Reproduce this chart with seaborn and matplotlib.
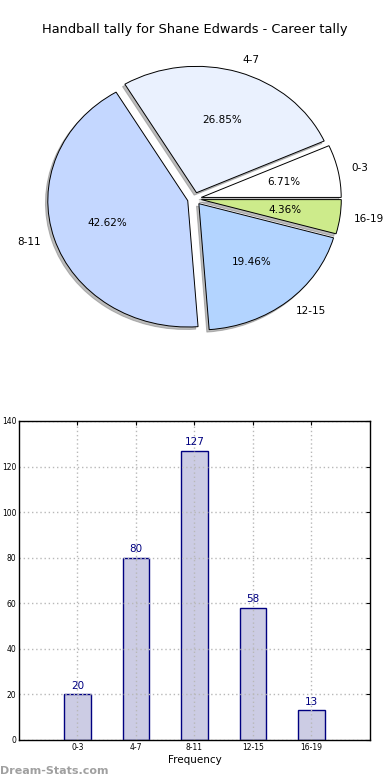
import matplotlib
matplotlib.use("Agg")
import matplotlib.pyplot as plt
import seaborn as sns

# tally data
categories = ["0-3", "4-7", "8-11", "12-15", "16-19"]
counts = [20, 80, 127, 58, 13]
pie_colors = ["#ffffff", "#eaf1fe", "#c4d7ff", "#b3d4ff", "#cdeb8b"]
y_ticks = [0, 20, 40, 60, 80, 100, 120, 140]

sns.set_style("white")
plt.rcParams["font.family"] = ["DejaVu Sans"]
plt.rcParams.update({"text.color": "black", "axes.labelcolor": "black",
                     "xtick.color": "black", "ytick.color": "black"})

fig = plt.figure(figsize=(3.9, 7.8), dpi=100)

# pie of share per range
ax1 = fig.add_axes([0.05, 0.5427, 0.897, 0.405])
wedges, texts, autotexts = ax1.pie(
    counts, labels=categories, colors=pie_colors, autopct="%.2f%%",
    explode=[0.05] * len(counts), shadow=dict(ox=-0.012, oy=-0.014, color="#7a7a7a"),
    startangle=0,
    wedgeprops=dict(edgecolor="black", linewidth=0.7),
    textprops=dict(fontsize=7.5, color="black"))
ax1.set_aspect("auto")
ax1.set_xlim(-1.25, 1.25)
ax1.set_ylim(-1.25, 1.25)
ax1.set_title("Handball tally for Shane Edwards - Career tally", fontsize=9.4, pad=5.5,
              color="black")

# frequency bars
ax2 = fig.add_axes([0.0487, 0.0513, 0.9, 0.409])
sns.barplot(x=categories, y=counts, color="#ccccE4", saturation=1,
            edgecolor="#000080", linewidth=1, width=0.45, ax=ax2, zorder=2)
for i, v in enumerate(counts):
    ax2.text(i, v + 1.5, str(v), ha="center", va="bottom", fontsize=7.5, color="#000080")
ax2.set_xlim(-1, 5)
ax2.set_ylim(0, 140)
ax2.set_yticks(y_ticks)
ax2.grid(True, linestyle=(0, (1, 2)), color="#b8b8b8", linewidth=1, zorder=3)
ax2.set_axisbelow(False)
ax2.tick_params(direction="in", top=True, right=True, labelsize=5.5, length=3, pad=2)
ax2.set_xlabel("Frequency", fontsize=7.5, labelpad=2)
ax2.set_ylabel("")
for s in ax2.spines.values():
    s.set_color("black")
    s.set_linewidth(1)
    s.set_zorder(4)

fig.text(0.0, 0.008, "Dream-Stats.com", fontsize=8, fontweight="bold", color="#a0a0a0")

fig.savefig("out.png", dpi=100)
